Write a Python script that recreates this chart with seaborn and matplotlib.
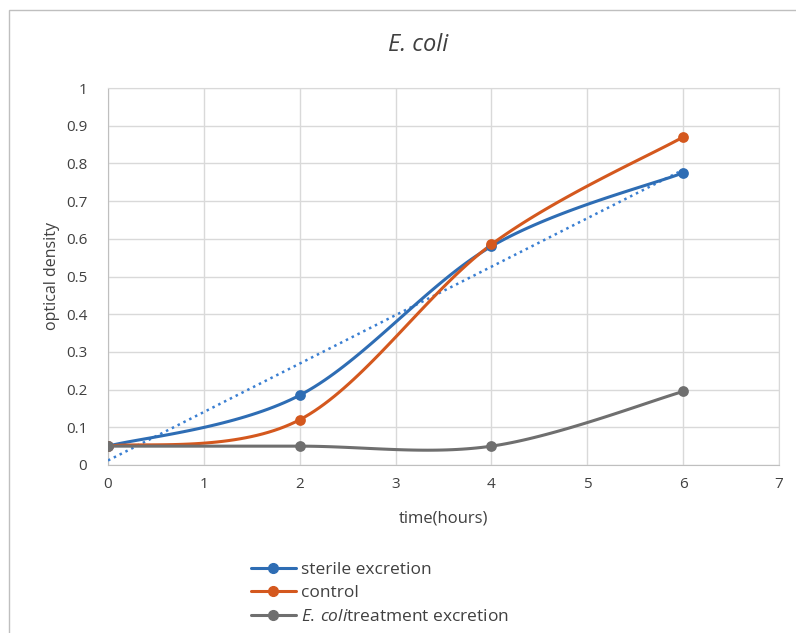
import numpy as np
import pandas as pd
import matplotlib
matplotlib.use("Agg")
import matplotlib.pyplot as plt
import seaborn as sns
from matplotlib.lines import Line2D
from matplotlib.patches import Rectangle

# ---- data ----
hours = [0, 2, 4, 6]
sterile = [0.05, 0.185, 0.58, 0.775]
control = [0.05, 0.12, 0.585, 0.87]
ecoli_treat = [0.05, 0.05, 0.05, 0.195]
series_names = ["sterile excretion", "control", "E. coli treatment excretion"]
x_ticks = [0, 1, 2, 3, 4, 5, 6, 7]
y_ticks = [0, 0.1, 0.2, 0.3, 0.4, 0.5, 0.6, 0.7, 0.8, 0.9, 1]

colors = {"sterile excretion": "#2E6DB4",
          "control": "#D4581E",
          "E. coli treatment excretion": "#6F6F6F"}

sns.set_style("white")
plt.rcParams["font.family"] = ["Open Sans", "DejaVu Sans"]
plt.rcParams["mathtext.fontset"] = "custom"
plt.rcParams["mathtext.it"] = "Open Sans:italic"
plt.rcParams["mathtext.rm"] = "Open Sans"


def excel_smooth(xs, ys, n=40):
    """Excel-style smoothed line: cubic Bezier through the points."""
    P = np.column_stack([xs, ys]).astype(float)
    m = len(P)
    out = []
    for i in range(m - 1):
        p0 = P[i - 1] if i > 0 else P[i]
        p1 = P[i]
        p2 = P[i + 1]
        p3 = P[i + 2] if i + 2 < m else P[i + 1]
        c1 = p1 + (p2 - p0) / 6.0
        c2 = p2 - (p3 - p1) / 6.0
        t = np.linspace(0, 1, n)[:, None]
        seg = ((1 - t) ** 3) * p1 + 3 * ((1 - t) ** 2) * t * c1 + 3 * (1 - t) * t ** 2 * c2 + t ** 3 * p2
        out.append(seg if i == 0 else seg[1:])
    return np.vstack(out)


fig = plt.figure(figsize=(7.96, 6.33), dpi=100)
ax = fig.add_axes([108 / 796, 1 - 465 / 633, (779 - 108) / 796, (465 - 88) / 633])

# outer chart frame
fig.patches.append(Rectangle((9 / 796, -0.01), 1.0, 1 - 10 / 633 + 0.01, transform=fig.transFigure,
                             fill=False, edgecolor="#BFBFBF", linewidth=1.0))

# linear trendline of sterile excretion
slope, intercept = np.polyfit(hours, sterile, 1)
tx = np.array([hours[0], hours[-1]])
trend = pd.DataFrame({"x": tx, "y": slope * tx + intercept})
sns.lineplot(data=trend, x="x", y="y", ax=ax, color="#3A7FD2", linewidth=1.8,
             linestyle=(0, (1, 1.6)), zorder=3)

for name, vals in zip(series_names, [sterile, control, ecoli_treat]):
    curve = excel_smooth(hours, vals)
    cdf = pd.DataFrame({"x": curve[:, 0], "y": curve[:, 1]})
    sns.lineplot(data=cdf, x="x", y="y", ax=ax, color=colors[name], linewidth=2.2,
                 sort=False, estimator=None, zorder=4)
    pdf = pd.DataFrame({"x": hours, "y": vals})
    sns.scatterplot(data=pdf, x="x", y="y", ax=ax, color=colors[name], s=60,
                    edgecolor=colors[name], linewidth=0, zorder=5)

ax.set_xlim(0, 7)
ax.set_ylim(0, 1)
ax.set_xticks(x_ticks)
ax.set_yticks(y_ticks)
ax.set_xticklabels([str(v) for v in x_ticks])
ax.set_yticklabels([("%g" % v) for v in y_ticks])
ax.grid(True, color="#D9D9D9", linewidth=1.0)
ax.set_axisbelow(True)
for s in ["top", "right"]:
    ax.spines[s].set_color("#D9D9D9")
for s in ["left", "bottom"]:
    ax.spines[s].set_color("#BFBFBF")
ax.tick_params(axis="both", length=0, labelsize=11, labelcolor="#404040")
ax.tick_params(axis="x", pad=9)
ax.tick_params(axis="y", pad=15)
ax.set_xlabel("time(hours)", fontsize=12, color="#404040", labelpad=13)
ax.set_ylabel("optical density", fontsize=11.5, color="#404040", labelpad=4)

fig.text(418 / 796, 1 - 45 / 633, "E. coli", fontsize=17, style="italic",
         color="#404040", ha="center", va="center")

handles = [Line2D([0], [0], color=colors[n], linewidth=2.2, marker="o", markersize=7)
           for n in series_names]
labels = ["sterile excretion", "control", "$\\it{E.\\,coli}$treatment excretion"]
fig.legend(handles, labels, loc="upper left", bbox_to_anchor=(235 / 796, 1 - 546 / 633),
           frameon=False, fontsize=12.5, handlelength=2.6, handletextpad=0.3,
           labelspacing=0.42, labelcolor="#404040")

fig.savefig("out.png", dpi=100, facecolor="white")
